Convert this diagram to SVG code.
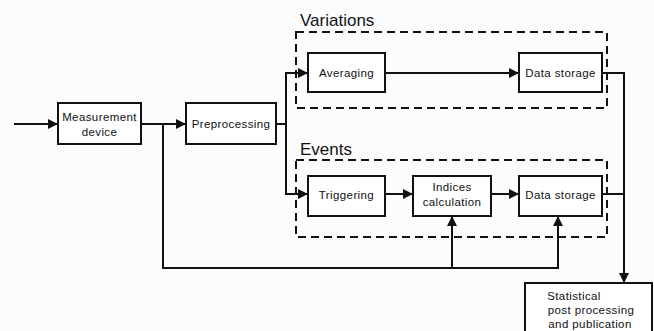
<svg xmlns="http://www.w3.org/2000/svg" width="654" height="331" viewBox="0 0 654 331">
<style>
.box{fill:#fff;stroke:#111;stroke-width:2}
.grp{fill:none;stroke:#111;stroke-width:2;stroke-dasharray:8 5}
.ln{fill:none;stroke:#111;stroke-width:2}
.t{font-family:"Liberation Sans",Arial,sans-serif;font-size:11.5px;fill:#111;text-anchor:middle;letter-spacing:0.4px}
.h{font-family:"Liberation Sans",Arial,sans-serif;font-size:17px;fill:#111}
</style>
<defs>
<marker id="a" viewBox="0 0 10 10" refX="10" refY="5" markerWidth="10" markerHeight="10" markerUnits="userSpaceOnUse" orient="auto">
<path d="M0,0 L10,5 L0,10 z" fill="#111"/>
</marker>
</defs>
<rect width="654" height="331" fill="#fcfcfc"/>
<g id="variations">
<rect class="grp" x="296" y="32" width="311" height="76"/>
<text class="h" x="300" y="25.5">Variations</text>
</g>
<g id="events">
<rect class="grp" x="296" y="160" width="311" height="77"/>
<text class="h" x="300" y="155">Events</text>
</g>
<g id="connectors">
<path class="ln" d="M14,124 H58" marker-end="url(#a)"/>
<path class="ln" d="M141,124 H186" marker-end="url(#a)"/>
<path class="ln" d="M276,124 H286 V73 H308" marker-end="url(#a)"/>
<path class="ln" d="M286,124 V194 H308" marker-end="url(#a)"/>
<path class="ln" d="M385,73 H519" marker-end="url(#a)"/>
<path class="ln" d="M385,194 H413" marker-end="url(#a)"/>
<path class="ln" d="M491,194 H519" marker-end="url(#a)"/>
<path class="ln" d="M602,73 H624 V283" marker-end="url(#a)"/>
<path class="ln" d="M602,194 H624"/>
<path class="ln" d="M163,124 V268 H558 V216" marker-end="url(#a)"/>
<path class="ln" d="M452,268 V216" marker-end="url(#a)"/>
</g>
<g id="measurement">
<rect class="box" x="58" y="103" width="83" height="41"/>
<text class="t" x="99.5" y="121">Measurement</text>
<text class="t" x="99.5" y="136">device</text>
</g>
<g id="preprocessing">
<rect class="box" x="186" y="103" width="90" height="41"/>
<text class="t" x="231" y="128">Preprocessing</text>
</g>
<g id="averaging">
<rect class="box" x="308" y="53" width="77" height="39"/>
<text class="t" x="346.5" y="77">Averaging</text>
</g>
<g id="storage1">
<rect class="box" x="519" y="53" width="83" height="39"/>
<text class="t" x="560.5" y="77">Data storage</text>
</g>
<g id="triggering">
<rect class="box" x="308" y="176" width="77" height="40"/>
<text class="t" x="346.5" y="199">Triggering</text>
</g>
<g id="indices">
<rect class="box" x="413" y="176" width="78" height="40"/>
<text class="t" x="452" y="191">Indices</text>
<text class="t" x="452" y="206">calculation</text>
</g>
<g id="storage2">
<rect class="box" x="519" y="176" width="83" height="40"/>
<text class="t" x="560.5" y="199">Data storage</text>
</g>
<g id="statistical">
<rect class="box" x="525" y="283" width="127" height="52"/>
<text class="t" x="574" y="300">Statistical</text>
<text class="t" x="591" y="314">post processing</text>
<text class="t" x="590" y="328">and publication</text>
</g>
</svg>
